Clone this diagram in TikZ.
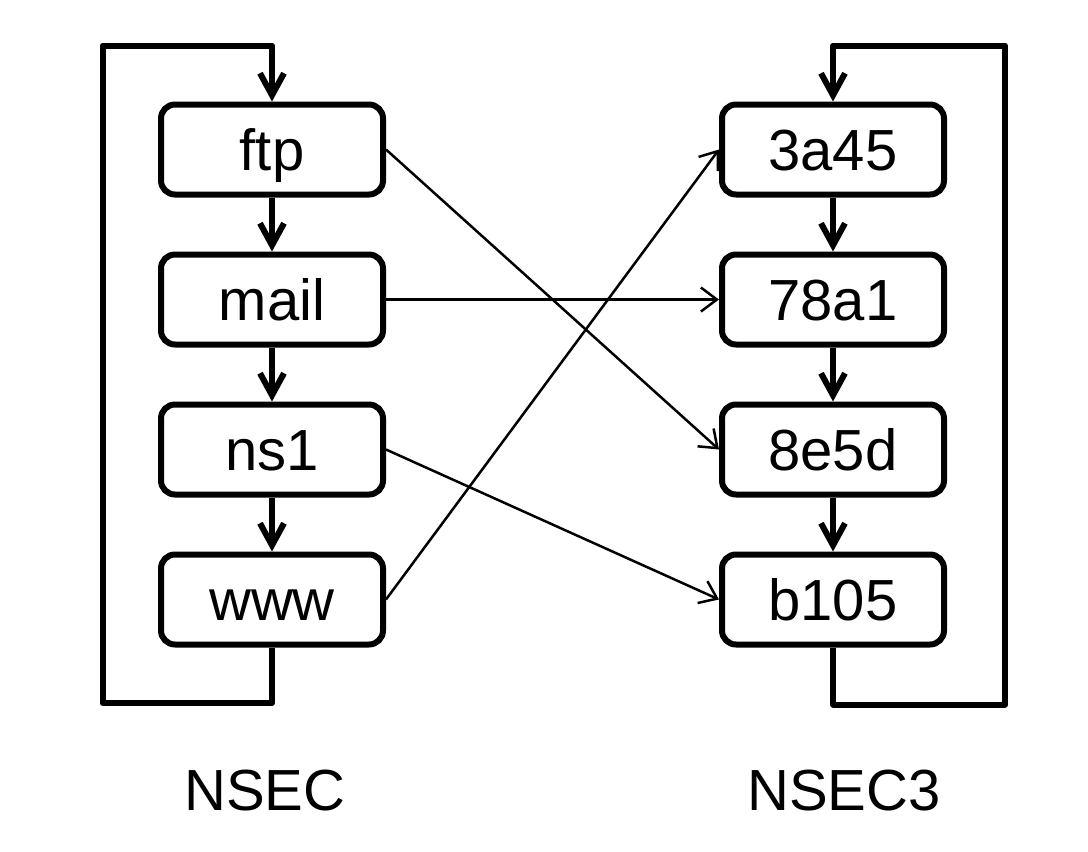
\documentclass[tikz,border=0pt]{standalone}
\usepackage{fontspec}
\setmainfont{Liberation Sans}
\usetikzlibrary{arrows.meta}
\begin{document}
\begin{tikzpicture}[x=1pt,y=-1pt,
  box/.style={draw, line width=6pt, rounded corners=14pt, minimum width=222pt,
    minimum height=90pt, inner sep=0pt, text height=41pt, text depth=0pt,
    font=\fontsize{58}{60}\selectfont},
  lbl/.style={inner sep=0pt, text height=41pt, text depth=0pt, font=\fontsize{58}{60}\selectfont},
  thickarrow/.style={line width=6pt, line join=round, -{Straight Barb[length=22pt,width=24pt]}},
  thinarrow/.style={line width=2.5pt, -{Straight Barb[length=16pt,width=24pt]}}]
\useasboundingbox (0,0) rectangle (1088,852);
% left column
\node[box] (l1) at (272,149.5) {ftp};
\node[box] (l2) at (272,299.5) {mail};
\node[box] (l3) at (272,449.5) {ns1};
\node[box] (l4) at (272,599.5) {www};
% right column
\node[box] (r1) at (833,149.5) {3a45};
\node[box] (r2) at (833,299.5) {78a1};
\node[box] (r3) at (833,449.5) {8e5d};
\node[box] (r4) at (833,599.5) {b105};
% labels
\node[lbl] (nsec) at (265,789.5) {NSEC};
\node[lbl] (nsec3) at (844,789.5) {NSEC3};
% chain arrows
\draw[thickarrow] (l1) -- (l2);
\draw[thickarrow] (l2) -- (l3);
\draw[thickarrow] (l3) -- (l4);
\draw[thickarrow] (r1) -- (r2);
\draw[thickarrow] (r2) -- (r3);
\draw[thickarrow] (r3) -- (r4);
% loops
\coordinate (lb) at (102.5,703);
\coordinate (lt) at (102.5,45.5);
\coordinate (rb) at (1005,704.5);
\coordinate (rt) at (1005,45.5);
\draw[thickarrow] (l4.south) |- (lb) -- (lt) -| (l1.north);
\draw[thickarrow] (r4.south) |- (rb) -- (rt) -| (r1.north);
% cross arrows
\draw[thinarrow] (l1.east) -- (r3.west);
\draw[thinarrow] (l2.east) -- (r2.west);
\draw[thinarrow] (l3.east) -- (r4.west);
\draw[thinarrow] (l4.east) -- (r1.west);
\end{tikzpicture}
\end{document}
